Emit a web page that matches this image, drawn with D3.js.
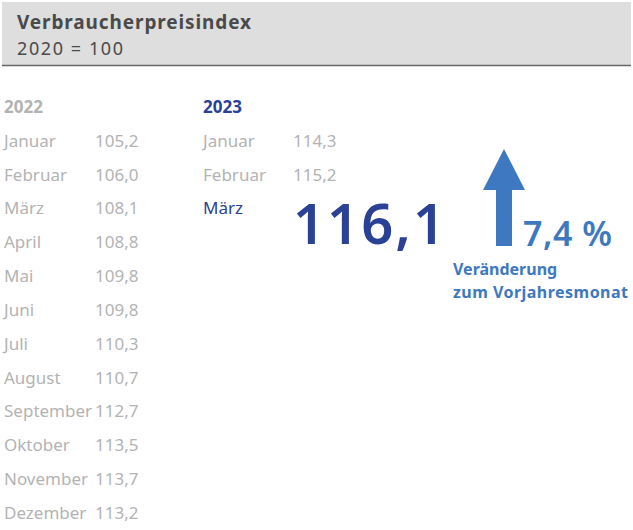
<!DOCTYPE html>
<html>
<head>
<meta charset="utf-8">
<script src="https://cdn.jsdelivr.net/npm/d3@7"></script>
<style>
  body { margin: 0; background: #fff; }
  svg text { font-family: "Noto Sans", "Open Sans", sans-serif; }
</style>
</head>
<body>
<div id="chart"></div>
<script>
// data
var months2022 = ["Januar", "Februar", "März", "April", "Mai", "Juni", "Juli", "August", "September", "Oktober", "November", "Dezember"]
var values2022 = [105.2, 106.0, 108.1, 108.8, 109.8, 109.8, 110.3, 110.7, 112.7, 113.5, 113.7, 113.2]
var months2023 = ["Januar", "Februar", "März"]
var values2023 = [114.3, 115.2, 116.1]
var changeYoY = 7.4

var width = 633, height = 530
var grey = "#b3b3b3", darkBlue = "#2a4196", lightBlue = "#3d78c0"
var fmt = function(v) { return d3.format(".1f")(v).replace(".", ",") }

var svg = d3.select("#chart").append("svg")
    .attr("width", width).attr("height", height)

// header
svg.append("rect").attr("x", 2).attr("y", 2).attr("width", 629).attr("height", 63)
    .style("fill", "#dedede")
svg.append("line").attr("x1", 2).attr("x2", 631).attr("y1", 65.5).attr("y2", 65.5)
    .style("stroke", "#666").style("stroke-width", 1.5)
svg.append("text").attr("x", 17).attr("y", 29).text("Verbraucherpreisindex")
    .style("font-size", "19px").style("font-weight", "bold").style("fill", "#4a4a4a")
    .attr("textLength", 234)
svg.append("text").attr("x", 17).attr("y", 55).text("2020 = 100")
    .style("font-size", "18px").style("fill", "#4a4a4a")
    .attr("textLength", 106)

// rows: index 0 = year header, then months
var y = d3.scalePoint().domain(d3.range(13)).range([107, 513])
var fs = "17px"

// 2022 column
svg.append("text").attr("x", 4).attr("y", y(0)).attr("dy", "0.35em").text("2022")
    .style("font-size", fs).style("font-weight", "bold").style("fill", grey)
var rows22 = svg.append("g").selectAll("g").data(months2022).join("g")
    .attr("transform", function(d, i) { return "translate(0," + y(i + 1) + ")" })
rows22.append("text").attr("x", 4).attr("dy", "0.35em").text(function(d) { return d })
    .style("font-size", fs).style("fill", grey)
rows22.append("text").attr("x", 95).attr("dy", "0.35em").text(function(d, i) { return fmt(values2022[i]) })
    .style("font-size", fs).style("fill", grey)

// 2023 column
svg.append("text").attr("x", 203).attr("y", y(0)).attr("dy", "0.35em").text("2023")
    .style("font-size", fs).style("font-weight", "bold").style("fill", darkBlue)
var last = months2023.length - 1
var rows23 = svg.append("g").selectAll("g").data(months2023).join("g")
    .attr("transform", function(d, i) { return "translate(0," + y(i + 1) + ")" })
rows23.append("text").attr("x", 203).attr("dy", "0.35em").text(function(d) { return d })
    .style("font-size", fs).style("fill", function(d, i) { return i == last ? darkBlue : grey })
rows23.filter(function(d, i) { return i < last })
    .append("text").attr("x", 293).attr("dy", "0.35em").text(function(d, i) { return fmt(values2023[i]) })
    .style("font-size", fs).style("fill", grey)

// current value, big
svg.append("text").attr("x", 293).attr("y", 244).text(fmt(values2023[last]))
    .style("font-size", "56px").style("font-weight", "600").style("fill", darkBlue)
    .attr("textLength", 152)

// arrow up
var ax = 504
svg.append("path")
    .attr("d", "M" + ax + ",149 L" + (ax + 21) + ",190 L" + (ax + 8) + ",190 L" + (ax + 8) + ",246 L" + (ax - 8) + ",246 L" + (ax - 8) + ",190 L" + (ax - 21) + ",190 Z")
    .style("fill", lightBlue)

svg.append("text").attr("x", 523).attr("y", 246).text(fmt(changeYoY) + " %")
    .style("font-size", "34px").style("font-weight", "600").style("fill", lightBlue)
    .attr("textLength", 89)
svg.append("text").attr("x", 453).attr("y", 275).text("Veränderung")
    .style("font-size", "16px").style("font-weight", "bold").style("fill", lightBlue)
svg.append("text").attr("x", 453).attr("y", 298).text("zum Vorjahresmonat")
    .style("font-size", "16px").style("font-weight", "bold").style("fill", lightBlue)
    .attr("textLength", 175)
</script>
</body>
</html>
